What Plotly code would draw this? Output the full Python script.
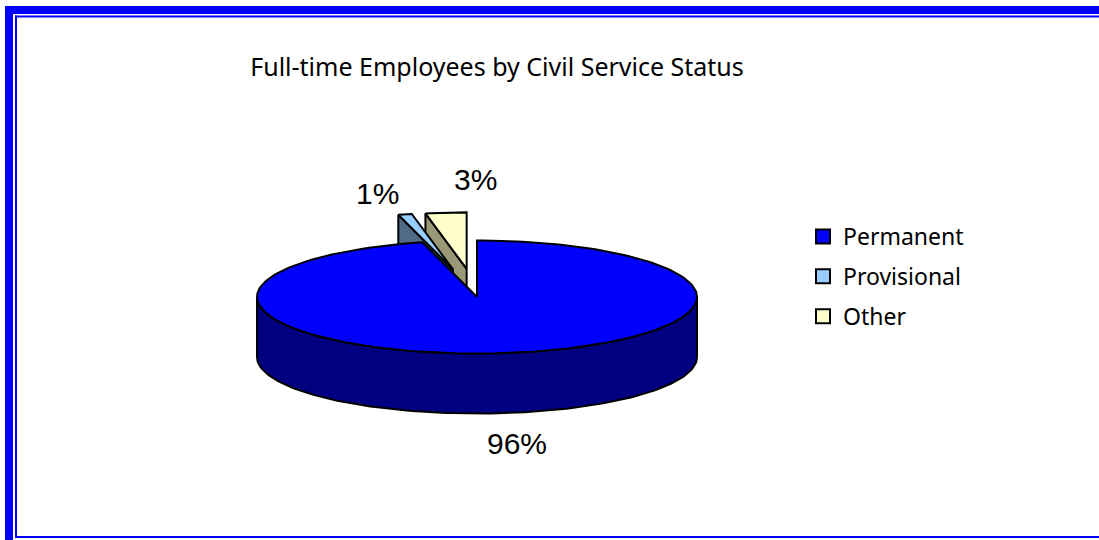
import numpy as np
import plotly.graph_objects as go

# Full-time employees by civil service status (percent)
categories = ["Permanent", "Provisional", "Other"]
shares = [96, 1, 3]
top_colors = ["#0000FF", "#99CCFF", "#FFFFCC"]
side_colors = ["#000080", "#506A88", "#999977"]
explode = [0.0, 0.5, 0.5]

W, H = 1099, 540

# 3-D pie geometry, in pixel units of the canvas
CX, CY = 477, 297      # centre of the top face
RX, RY = 220, 56.5     # ellipse radii of the top face
DEPTH = 60             # thickness of the pie
N_ARC = 120


def rim_point(theta):
    t = np.radians(theta)
    return RX * np.sin(t), -RY * np.cos(t)


def arc(t1, t2, n):
    th = np.linspace(t1, t2, max(n, 2))
    r = np.radians(th)
    return RX * np.sin(r), -RY * np.cos(r)


def poly_trace(xs, ys, fill, name):
    return go.Scatter(
        x=list(xs) + [xs[0]], y=list(ys) + [ys[0]],
        mode="lines", fill="toself", fillcolor=fill,
        line=dict(color="black", width=2),
        hoverinfo="text", text=name, showlegend=False,
    )


total = float(sum(shares))
starts = np.concatenate([[0.0], np.cumsum(shares)[:-1]]) / total * 360.0
spans = np.array(shares) / total * 360.0

slices = []
for i, cat in enumerate(categories):
    t1 = starts[i]
    t2 = t1 + spans[i]
    mid = 0.5 * (t1 + t2)
    mx, my = rim_point(mid)
    ox = CX + explode[i] * mx
    oy = CY + explode[i] * my
    slices.append((i, cat, t1, t2, mid, ox, oy))

# paint back slices first
slices.sort(key=lambda s: -np.cos(np.radians(s[4])))

traces = []
for i, cat, t1, t2, mid, ox, oy in slices:
    label = f"{cat}: {shares[i]}%"
    # radial cut walls that face the viewer
    for theta, sign in ((t1, -1), (t2, 1)):
        s = np.sin(np.radians(theta))
        if sign * s <= 1e-6:
            continue
        rx, ry = rim_point(theta)
        xs = [ox, ox + rx, ox + rx, ox]
        ys = [oy, oy + ry, oy + ry + DEPTH, oy + DEPTH]
        traces.append(poly_trace(xs, ys, side_colors[i], label))
    # outer curved wall: only the front half is visible
    lo, hi = max(t1, 90.0), min(t2, 270.0)
    if hi > lo:
        n = int(N_ARC * (hi - lo) / 180) + 2
        ax, ay = arc(lo, hi, n)
        xs = np.concatenate([ox + ax, (ox + ax)[::-1]])
        ys = np.concatenate([oy + ay, (oy + ay + DEPTH)[::-1]])
        traces.append(poly_trace(xs, ys, side_colors[i], label))
    # top face
    n = int(N_ARC * (t2 - t1) / 180) + 2
    ax, ay = arc(t1, t2, n)
    xs = np.concatenate([[ox], ox + ax])
    ys = np.concatenate([[oy], oy + ay])
    traces.append(poly_trace(xs, ys, top_colors[i], label))

# legend entries
for i, cat in enumerate(categories):
    traces.append(go.Scatter(
        x=[None], y=[None], mode="markers", name=cat, legendgroup=cat,
        marker=dict(symbol="square", size=14, color=top_colors[i],
                    line=dict(color="black", width=2)),
    ))

fig = go.Figure(traces)

# percentage labels
label_pos = [(517, 443), (377, 193), (475, 179)]
for i, (lx, ly) in enumerate(label_pos):
    fig.add_annotation(
        x=lx, y=ly, xref="x", yref="y", text=f"{shares[i]}%",
        showarrow=False, font=dict(family="Liberation Sans", size=30, color="black"),
    )

# double blue frame (left, top and bottom edges)
FRAME = "#0000FF"
fig.add_shape(type="line", xref="x", yref="y", x0=9, y0=6, x1=9, y1=H + 20,
              line=dict(width=8, color=FRAME), layer="above")
fig.add_shape(type="line", xref="x", yref="y", x0=5, y0=10, x1=W, y1=10,
              line=dict(width=8, color=FRAME), layer="above")
fig.add_shape(type="line", xref="x", yref="y", x0=16, y0=15.5, x1=16, y1=538,
              line=dict(width=2, color=FRAME), layer="above")
fig.add_shape(type="line", xref="x", yref="y", x0=15, y0=16.5, x1=W, y1=16.5,
              line=dict(width=2, color=FRAME), layer="above")
fig.add_shape(type="line", xref="x", yref="y", x0=15, y0=537, x1=W, y1=537,
              line=dict(width=2, color=FRAME), layer="above")

fig.update_layout(
    width=W, height=H,
    margin=dict(l=0, r=0, t=0, b=0, pad=0),
    paper_bgcolor="white", plot_bgcolor="white",
    xaxis=dict(range=[0, W], visible=False, fixedrange=True),
    yaxis=dict(range=[H, 0], visible=False, fixedrange=True),
    title=dict(text="Full-time Employees by Civil Service Status",
               x=497 / W, xanchor="center", y=1 - 67 / H, yanchor="middle",
               yref="container",
               font=dict(family="Noto Sans", size=25, color="black")),
    legend=dict(x=803 / W, y=1 - 215 / H, xanchor="left", yanchor="top",
                font=dict(family="Noto Sans", size=23, color="black"),
                tracegroupgap=7, bgcolor="rgba(0,0,0,0)"),
    showlegend=True,
)

fig.write_html("out.html", config={"displayModeBar": False})
